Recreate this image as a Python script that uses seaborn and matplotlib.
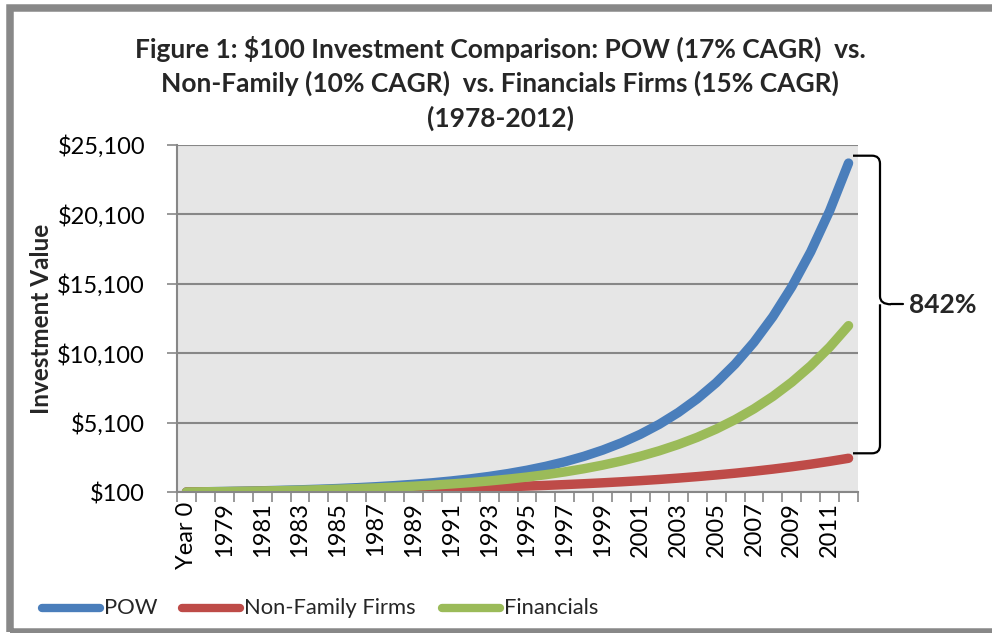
import numpy as np
import pandas as pd
import matplotlib
matplotlib.use("Agg")
import matplotlib.pyplot as plt
import seaborn as sns
from matplotlib.patches import Rectangle, PathPatch
from matplotlib.path import Path
from matplotlib.lines import Line2D

# ---------------- data ----------------
categories = ["Year 0"] + [str(y) for y in range(1978, 2013)]
pow_values = [100, 117, 137, 160, 187, 219, 256, 299, 349, 408, 478, 558, 653, 763,
              893, 1044, 1220, 1427, 1668, 1950, 2280, 2666, 3118, 3645, 4262, 4983,
              5827, 6813, 7966, 9314, 10890, 12733, 14887, 17407, 20352, 23797]
nonfamily_values = [100, 110, 120, 132, 145, 159, 174, 191, 209, 230, 252, 276, 303, 332,
                    364, 399, 438, 480, 527, 578, 634, 695, 762, 836, 917, 1005,
                    1102, 1209, 1326, 1454, 1595, 1749, 1918, 2103, 2307, 2530]
financials_values = [100, 115, 132, 151, 173, 198, 227, 261, 299, 343, 393, 451, 517, 593,
                     681, 780, 895, 1026, 1177, 1350, 1548, 1775, 2036, 2335, 2678, 3071,
                     3522, 4039, 4632, 5312, 6092, 6987, 8013, 9189, 10538, 12085]
series_names = ["POW", "Non-Family Firms", "Financials"]
series_colors = ["#4A7EBB", "#BE4B48", "#9BBB59"]
y_ticks = [100, 5100, 10100, 15100, 20100, 25100]
y_tick_labels = ["$100", "$5,100", "$10,100", "$15,100", "$20,100", "$25,100"]
title_text = ("Figure 1: $100 Investment Comparison: POW (17% CAGR)  vs.\n"
              "Non-Family (10% CAGR)  vs. Financials Firms (15% CAGR)\n"
              "(1978-2012)")
y_label = "Investment Value"
bracket_label = "842%"

# ---------------- figure ----------------
W, H = 992, 633
sns.set_theme(style="white")
plt.rcParams["font.family"] = ["Lato", "DejaVu Sans"]

fig = plt.figure(figsize=(W / 100, H / 100), dpi=100)
fig.patch.set_facecolor("white")

def px(x, y):
    return x / W, 1 - y / H

left, top = px(177, 145)
right, bottom = px(858, 492)
ax = fig.add_axes([left, bottom, right - left, top - bottom])
ax.set_facecolor("#E6E6E6")

idx = np.arange(len(categories))
df = pd.DataFrame({
    "idx": np.concatenate([idx, idx, idx]),
    "value": pow_values + nonfamily_values + financials_values,
    "series": np.repeat(series_names, len(categories)),
})

sns.lineplot(data=df, x="idx", y="value", hue="series", hue_order=series_names,
             palette=series_colors, linewidth=6.8, legend=False, ax=ax,
             sort=False, estimator=None)
for ln in ax.get_lines():
    ln.set_solid_capstyle("round")
    ln.set_solid_joinstyle("round")

ax.set_xlim(-0.5, len(categories) - 0.5)
ax.set_ylim(100, 25100)

grid_color = "#878787"
ax.set_yticks(y_ticks)
ax.set_yticklabels(y_tick_labels, fontsize=17, color="black")
ax.yaxis.grid(True, color=grid_color, linewidth=1.5)
ax.xaxis.grid(False)
ax.set_axisbelow(True)

ax.set_xticks(idx[::2])
ax.set_xticklabels(categories[::2], rotation=90, fontsize=17, color="black")
ax.set_xticks(np.arange(-0.5, len(categories), 1.0), minor=True)
ax.tick_params(axis="x", which="major", length=0, pad=7)
ax.tick_params(axis="x", which="minor", length=7, width=1.2, color=grid_color,
               direction="out", bottom=True)
ax.tick_params(axis="y", which="major", length=7, width=1.2, color=grid_color,
               direction="out", left=True, pad=16)

for s in ["top", "right"]:
    ax.spines[s].set_visible(False)
for s in ["left", "bottom"]:
    ax.spines[s].set_color(grid_color)
    ax.spines[s].set_linewidth(1.5)

ax.set_xlabel("")
ax.set_ylabel(y_label, fontsize=17.5, fontweight="bold")
ax.yaxis.set_label_coords(-0.182, 0.5)

# title
tx, ty = px(500, 36)
fig.text(tx, ty, title_text, ha="center", va="top", fontsize=19,
         fontweight="bold", linespacing=1.42)

# bracket (annotation) in pixel coords
def fp(x, y):
    return (x / W, 1 - y / H)

ytop, ybot, ymid = 155.7, 453.3, 304.3
xa, xv = 853, 880
r = 8
verts = [fp(xa, ytop), fp(xv - r, ytop), fp(xv, ytop), fp(xv, ytop + r),
         fp(xv, ymid - r), fp(xv, ymid), fp(xv + r + 3, ymid),
         fp(xv, ymid), fp(xv, ymid + r),
         fp(xv, ybot - r), fp(xv, ybot), fp(xv - r, ybot), fp(xa, ybot)]
codes = [Path.MOVETO, Path.LINETO, Path.CURVE3, Path.CURVE3,
         Path.LINETO, Path.CURVE3, Path.CURVE3,
         Path.MOVETO, Path.CURVE3,
         Path.LINETO, Path.CURVE3, Path.CURVE3, Path.LINETO]
fig.add_artist(PathPatch(Path(verts, codes), transform=fig.transFigure,
                         fill=False, edgecolor="black", linewidth=1.6))
fig.add_artist(Line2D([(xv + r + 3) / W, 903 / W], [1 - ymid / H, 1 - ymid / H],
                      transform=fig.transFigure, color="black", linewidth=1.6))
lx, ly = px(909, 305)
fig.text(lx, ly, bracket_label, ha="left", va="center", fontsize=19, fontweight="bold")

# legend
legend_items = [(42, 100, 104), (182, 240, 244), (442, 500, 504)]
for (x0, x1, xtxt), name, col in zip(legend_items, series_names, series_colors):
    fig.add_artist(Line2D([x0 / W, x1 / W], [1 - 608 / H, 1 - 608 / H],
                          transform=fig.transFigure, color=col, linewidth=6,
                          solid_capstyle="round"))
    fig.text(xtxt / W, 1 - 608 / H, name, ha="left", va="center", fontsize=15.8)

# outer frame
fx0, fy0 = 9.5, 8
fx1, fy1 = 1010, 631.5
fig.add_artist(Rectangle((fx0 / W, 1 - fy1 / H), (fx1 - fx0) / W, (fy1 - fy0) / H,
                         transform=fig.transFigure, fill=False,
                         edgecolor="#888888", linewidth=5.4))

fig.savefig("out.png", dpi=100)
